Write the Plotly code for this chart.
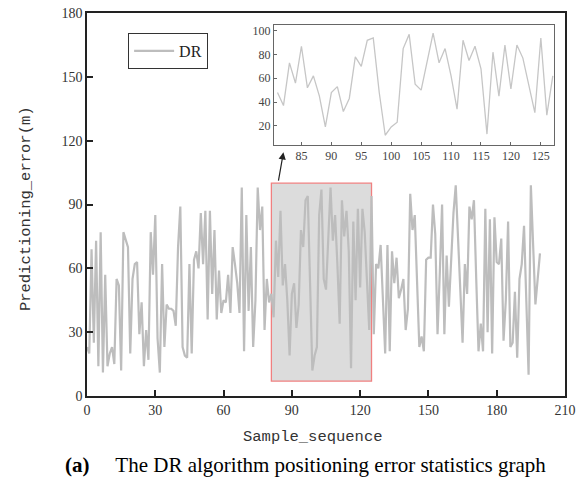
import plotly.graph_objects as go

# ---- data ----
sample_index = list(range(0, 200))
dr_error = [
    23, 20, 69, 25, 73, 14, 77, 11, 57, 14,
    20, 23, 15, 55, 52, 12, 77, 74, 70, 20,
    55, 62, 63, 29, 44, 14, 31, 17, 77, 57,
    85, 27, 11, 62, 23, 43, 41, 41, 40, 33,
    70, 89, 23, 19, 18, 62, 20, 64, 68, 60,
    86, 62, 87, 36, 87, 48, 78, 36, 59, 39,
    45, 44, 57, 39, 70, 62, 53, 39, 98, 21,
    85, 40, 70, 23, 45, 98, 78, 89, 31, 55,
    44, 48, 37, 73, 56, 87, 52, 62, 45, 19,
    48, 53, 32, 43, 78, 70, 92, 94, 48, 12,
    19, 23, 85, 97, 55, 50, 74, 98, 73, 85,
    62, 34, 92, 75, 87, 68, 13, 82, 45, 88,
    51, 88, 77, 53, 31, 94, 29, 62, 60, 71,
    45, 20, 71, 21, 68, 53, 65, 46, 50, 55,
    31, 41, 95, 78, 85, 52, 23, 28, 21, 64,
    65, 65, 90, 76, 29, 58, 90, 29, 66, 42,
    65, 86, 99, 70, 50, 25, 62, 48, 89, 83,
    92, 55, 21, 34, 21, 88, 30, 83, 20, 84,
    63, 62, 74, 26, 45, 82, 23, 25, 49, 18,
    55, 62, 80, 45, 10, 99, 71, 43, 55, 67,
]
series_name = "DR"
x_ticks = [0, 30, 60, 90, 120, 150, 180, 210]
y_ticks = [0, 30, 60, 90, 120, 150, 180]
inset_x_ticks = [85, 90, 95, 100, 105, 110, 115, 120, 125]
inset_y_ticks = [20, 40, 60, 80, 100]
zoom_x = [81, 125]
zoom_y = [7, 100]
inset_start, inset_end = 81, 127
x_title = "Sample_sequence"
y_title = "Predictioning_error(m)"
caption_label = "(a)"
caption_text = "The DR algorithm positioning error statistics graph"

inset_x = sample_index[inset_start:inset_end + 1]
inset_y = dr_error[inset_start:inset_end + 1]

SERIF = "Liberation Serif"
MONO = "Liberation Mono"

fig = go.Figure()
fig.add_trace(go.Scatter(
    x=sample_index, y=dr_error, mode="lines", name=series_name,
    line=dict(color="#bdbdbd", width=2.2),
    xaxis="x", yaxis="y",
))
fig.add_trace(go.Scatter(
    x=inset_x, y=inset_y, mode="lines", showlegend=False,
    line=dict(color="#c6c6c6", width=1.3),
    xaxis="x2", yaxis="y2",
))

# zoom rectangle
fig.add_shape(type="rect", xref="x", yref="y",
              x0=zoom_x[0], x1=zoom_x[1], y0=zoom_y[0], y1=zoom_y[1],
              fillcolor="#dcdcdc", line=dict(color="#f08080", width=1.3),
              layer="below")

# arrow from rectangle to inset
fig.add_annotation(xref="x", yref="y", axref="x", ayref="y",
                   x=86.3, y=114.5, ax=84.0, ay=100.5,
                   showarrow=True, arrowhead=2, arrowsize=1.2,
                   arrowwidth=1.2, arrowcolor="#222", text="")

# axis titles and caption as annotations
fig.add_annotation(xref="paper", yref="paper", x=0.473, y=-0.106,
                   xanchor="center", yanchor="middle",
                   text=x_title, showarrow=False,
                   font=dict(family=MONO, size=15.5, color="#333"))
fig.add_annotation(xref="paper", yref="paper", x=-0.126, y=0.49,
                   xanchor="center", yanchor="middle",
                   text=y_title, showarrow=False, textangle=-90,
                   font=dict(family=MONO, size=15.5, color="#333"))
fig.add_annotation(xref="paper", yref="paper", x=0.457, y=-0.181,
                   xanchor="center", yanchor="middle",
                   text="<b>" + caption_label + "</b>\u2003 " + caption_text,
                   showarrow=False,
                   font=dict(family=SERIF, size=21, color="#000"))

axis_common = dict(showgrid=False, zeroline=False, showline=True,
                   linecolor="#222", linewidth=1.6, mirror=True,
                   ticks="inside", ticklen=6, tickwidth=1.5, tickcolor="#222",
                   automargin=False,
                   tickfont=dict(family=SERIF, size=14, color="#333"))

fig.update_layout(
    width=579, height=486,
    margin=dict(l=87, r=14, t=13, b=89.5),
    paper_bgcolor="white", plot_bgcolor="white",
    showlegend=True,
    legend=dict(x=0.086, y=0.948, xanchor="left", yanchor="top",
                bordercolor="#333", borderwidth=1, bgcolor="white",
                font=dict(family=SERIF, size=16, color="#222"),
                itemwidth=40, tracegroupgap=0),
    xaxis=dict(range=[0, 210], tickvals=x_ticks, **axis_common),
    yaxis=dict(range=[0, 180], tickvals=y_ticks, **axis_common),
    xaxis2=dict(domain=[0.391, 0.977], anchor="y2", range=[80.4, 127.2],
                tickvals=inset_x_ticks, showgrid=False, zeroline=False,
                showline=True, linecolor="#666", linewidth=1, mirror=True,
                ticks="inside", ticklen=3, tickcolor="#666", automargin=False,
                tickfont=dict(family=SERIF, size=12, color="#444")),
    yaxis2=dict(domain=[0.656, 0.969], anchor="x2", range=[4, 105],
                tickvals=inset_y_ticks, showgrid=False, zeroline=False,
                showline=True, linecolor="#666", linewidth=1, mirror=True,
                ticks="inside", ticklen=3, tickcolor="#666", automargin=False,
                tickfont=dict(family=SERIF, size=12, color="#444")),
)

fig.write_html("out.html",
               config={"displayModeBar": False},
               post_script="document.body.style.margin='0';"
                           "document.body.style.overflow='hidden';")
